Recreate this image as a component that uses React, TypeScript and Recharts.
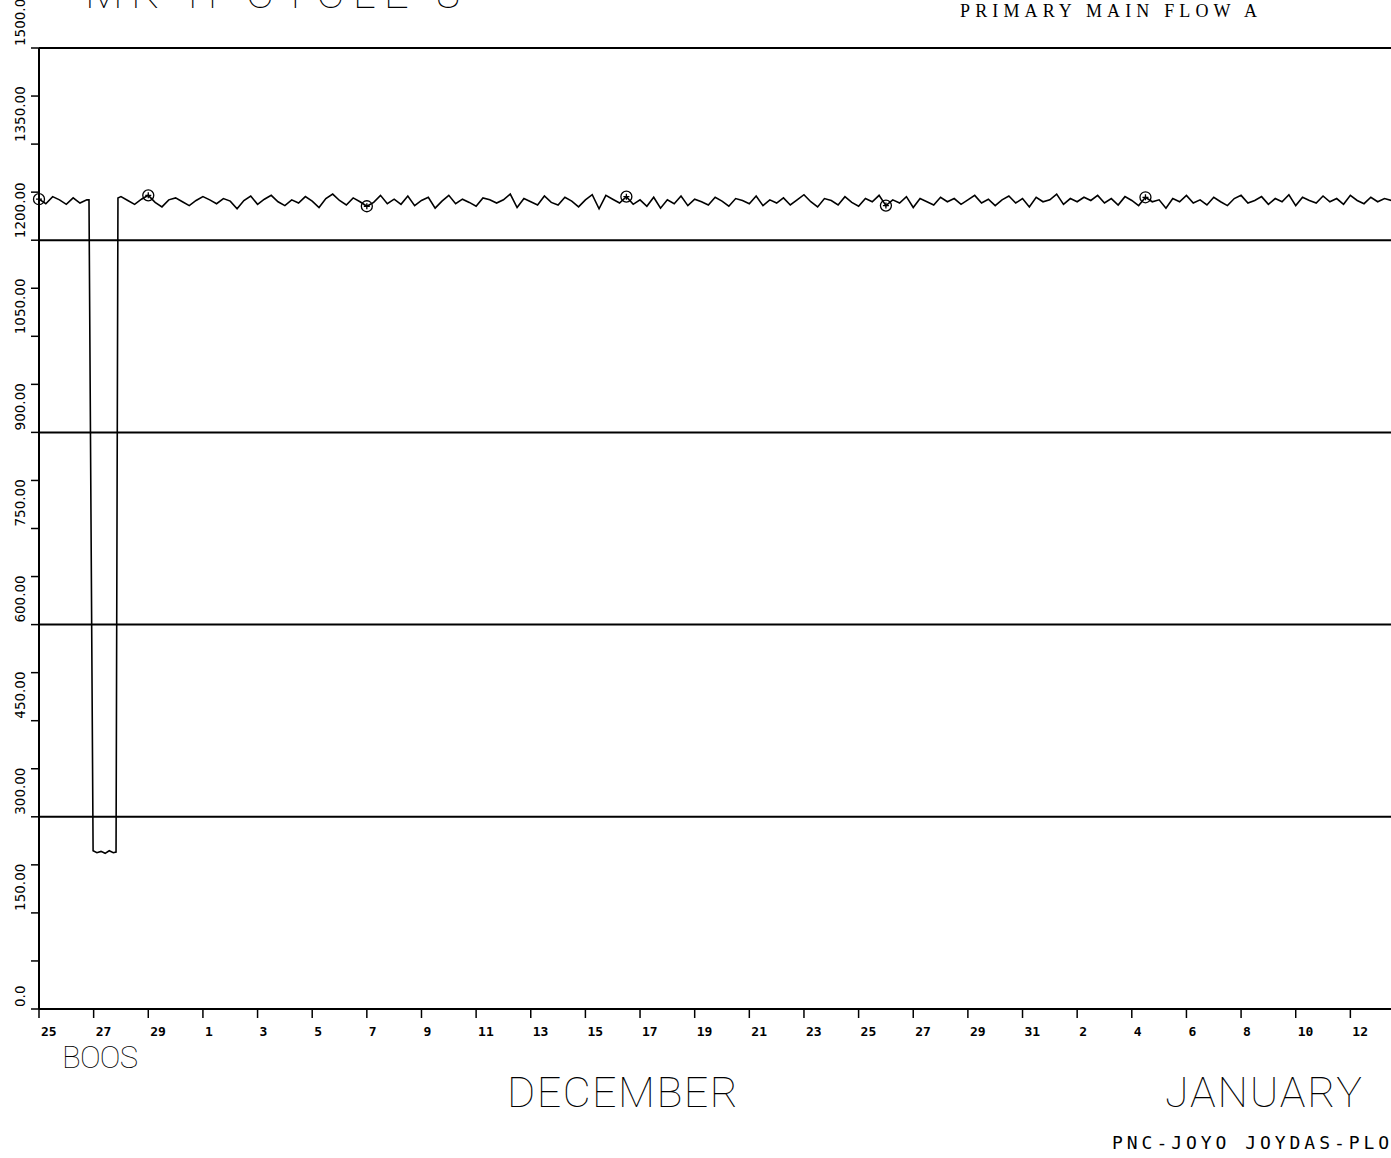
import { Line, LineChart, ReferenceLine, XAxis, YAxis } from "recharts"

// primary main flow A, sampled every 6 hours from Nov 25
const STEP = 0.25

// Nov 25 0:00 - Nov 26 18:00
const startupFlow = [1264, 1257, 1268, 1263, 1256, 1266, 1258, 1263]

// pump coastdown on Nov 26-27
const outageDays = [1.83, 1.98, 2.12, 2.27, 2.42, 2.57, 2.72, 2.82, 2.89]
const outageFlow = [1263, 247, 244, 246, 243, 247, 244, 245, 1266]

// Nov 28 0:00 onward
const restartFlow = [
  1268, 1262, 1256, 1264, 1270, 1259, 1252, 1263,
  1266, 1260, 1254, 1262, 1268, 1263, 1257, 1265,
  1261, 1249, 1262, 1269, 1256, 1264, 1270, 1260,
  1254, 1263, 1258, 1268, 1261, 1251, 1265, 1272,
  1262, 1255, 1266, 1260, 1253, 1259, 1270, 1257,
  1264, 1256, 1269, 1254, 1262, 1267, 1250, 1261,
  1270, 1257, 1264, 1259, 1253, 1266, 1263, 1258,
  1263, 1272, 1251, 1265, 1260, 1255, 1269, 1259,
  1255, 1267, 1261, 1252, 1263, 1271, 1249, 1270,
  1264, 1258, 1268, 1256, 1263, 1253, 1267, 1250,
  1263, 1257, 1269, 1254, 1264, 1260, 1255, 1267,
  1261, 1253, 1265, 1262, 1257, 1269, 1254, 1263,
  1258, 1266, 1255, 1263, 1271, 1260, 1252, 1265,
  1262, 1255, 1268, 1259, 1253, 1265, 1260, 1270,
  1254, 1263, 1258, 1268, 1251, 1265, 1260, 1255,
  1267, 1260, 1265, 1256, 1263, 1270, 1258, 1264,
  1254, 1263, 1269, 1258, 1265, 1252, 1267, 1260,
  1263, 1272, 1256, 1265, 1260, 1267, 1262, 1270,
  1258, 1265, 1255, 1268, 1262, 1254, 1267, 1260,
  1263, 1250, 1265, 1260, 1270, 1258, 1263, 1255,
  1267, 1260, 1254, 1265, 1270, 1258, 1262, 1268,
  1256, 1265, 1260, 1271, 1254, 1267, 1262, 1258,
  1269, 1260, 1265, 1256, 1270, 1262, 1257, 1267,
  1260, 1265, 1262, 1267, 1263,
]
const RESTART_DAY = 3

// plotter symbols along the trace
const markerDays = [0, 4, 12, 21.5, 31, 40.5]

const tickDays = [0, 2, 4, 6, 8, 10, 12, 14, 16, 18, 20, 22, 24, 26, 28, 30, 32, 34, 36, 38, 40, 42, 44, 46, 48]
const tickLabels = [
  "25", "27", "29", "1", "3", "5", "7", "9", "11", "13", "15", "17", "19",
  "21", "23", "25", "27", "29", "31", "2", "4", "6", "8", "10", "12",
]

const flowTicks = [0, 75, 150, 225, 300, 375, 450, 525, 600, 675, 750, 825, 900, 975, 1050, 1125, 1200, 1275, 1350, 1425, 1500]
const gridFlows = [300, 600, 900, 1200, 1500]

type Point = { day: number; flow: number }

const data: Point[] = [
  ...startupFlow.map((flow, i) => ({ day: i * STEP, flow })),
  ...outageDays.map((day, i) => ({ day, flow: outageFlow[i] })),
  ...restartFlow.map((flow, i) => ({ day: RESTART_DAY + i * STEP, flow })),
]

const plotterFont = "'DejaVu Sans Mono', monospace"
const strokeFont = "Roboto, 'DejaVu Sans', sans-serif"

const DayTick = (props: any) => {
  const { x, payload } = props
  const i = tickDays.indexOf(payload.value)
  return (
    <text x={x + 2} y={1036} textAnchor="start" fontFamily={plotterFont} fontWeight="bold" fontSize={13} fill="#000">
      {tickLabels[i] ?? ""}
    </text>
  )
}

const FlowTick = (props: any) => {
  const { y, payload } = props
  if (payload.value % 150 !== 0) return <g />
  const label = payload.value === 0 ? "0.0" : payload.value.toFixed(2)
  return (
    <text
      x={25}
      y={y - 2}
      transform={`rotate(-90, 25, ${y - 2})`}
      textAnchor="start"
      fontFamily="'DejaVu Sans', sans-serif"
      fontSize={13.5}
      fill="#000"
    >
      {label}
    </text>
  )
}

const Marker = (props: any) => {
  const { cx, cy, payload, index } = props
  if (!markerDays.includes(payload.day)) return <g key={`m${index}`} />
  return (
    <g key={`m${index}`} stroke="#000" strokeWidth={1.3} fill="none">
      <circle cx={cx} cy={cy} r={5.5} />
      <path d={`M${cx - 3},${cy}H${cx + 3}M${cx},${cy - 3}V${cy + 3}`} />
    </g>
  )
}

const App = () => {
  return (
    <div style={{ position: "absolute", left: 0, top: 0, width: 1391, height: 1158, overflow: "hidden", background: "#fff" }}>
      <LineChart width={1405} height={1158} data={data} margin={{ top: 48, right: 0, bottom: 0, left: 0 }}>
        <XAxis
          dataKey="day"
          type="number"
          domain={[0, 50]}
          ticks={tickDays}
          tick={DayTick}
          tickSize={9}
          tickLine={{ stroke: "#000", strokeWidth: 1.5 }}
          axisLine={{ stroke: "#000", strokeWidth: 2 }}
          height={149}
          interval={0}
        />
        <YAxis
          type="number"
          domain={[0, 1500]}
          ticks={flowTicks}
          tick={FlowTick}
          tickSize={8}
          tickLine={{ stroke: "#000", strokeWidth: 1.5 }}
          axisLine={{ stroke: "#000", strokeWidth: 2 }}
          width={39}
          interval={0}
        />
        {gridFlows.map((v) => (
          <ReferenceLine key={v} y={v} stroke="#000" strokeWidth={2} />
        ))}
        <Line
          type="linear"
          dataKey="flow"
          stroke="#000"
          strokeWidth={1.6}
          dot={Marker}
          activeDot={false}
          isAnimationActive={false}
        />
      </LineChart>
      <svg width={1391} height={1158} style={{ position: "absolute", left: 0, top: 0, pointerEvents: "none" }}>
        <text x={85} y={8} fontFamily={strokeFont} fontWeight={100} fontSize={44} textLength={375} lengthAdjust="spacing">
          MK-II CYCLE 8
        </text>
        <text x={960} y={17} fontFamily="'Liberation Serif', serif" fontSize={18} textLength={297} lengthAdjust="spacing">
          PRIMARY MAIN FLOW A
        </text>
        <text x={62} y={1068} fontFamily={strokeFont} fontWeight={100} fontSize={31} textLength={76} lengthAdjust="spacing">
          BOOS
        </text>
        <text x={507} y={1107} fontFamily={strokeFont} fontWeight={100} fontSize={43} textLength={231} lengthAdjust="spacing">
          DECEMBER
        </text>
        <text x={1165} y={1107} fontFamily={strokeFont} fontWeight={100} fontSize={43} textLength={197} lengthAdjust="spacing">
          JANUARY
        </text>
        <text x={1112} y={1149} fontFamily={plotterFont} fontSize={18} textLength={292} lengthAdjust="spacing">
          PNC-JOYO JOYDAS-PLOT
        </text>
      </svg>
    </div>
  )
}

export default App
